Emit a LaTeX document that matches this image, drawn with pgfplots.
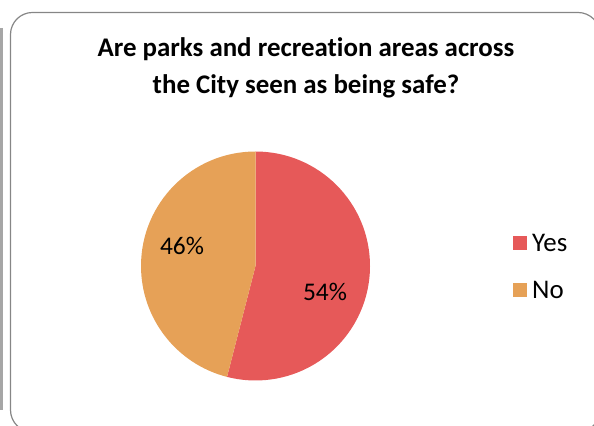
\documentclass[border=0pt]{standalone}
\usepackage{pgfplots}
\pgfplotsset{compat=1.18}
\usepackage{pgfplotstable}
\usepackage{fontspec}
\setmainfont{Carlito}[Ligatures={NoCommon}]
\definecolor{yescol}{RGB}{230,89,89}
\definecolor{nocol}{RGB}{230,161,87}
\definecolor{framecol}{RGB}{134,134,134}
\pgfplotstableread{
label value
Yes 54
No 46
}\piedata
\begin{document}
\begin{tikzpicture}[x=1bp,y=1bp]
\begin{axis}[at={(0bp,0bp)},anchor=south west,scale only axis,width=594bp,height=426bp,
  xmin=0,xmax=594,ymin=0,ymax=426,hide axis,clip=false]
\pgfplotstablegetelem{0}{value}\of\piedata
\pgfmathsetmacro\angY{90-3.6*\pgfplotsretval}
\fill[yescol] (axis cs:255.5,160) -- ++(90:114.5bp) arc[start angle=90,end angle=\angY,radius=114.5bp] -- cycle;
\fill[nocol] (axis cs:255.5,160) -- ++(90:114.5bp) arc[start angle=90,end angle=\angY+360,radius=114.5bp] -- cycle;
\node[font=\fontsize{25.5}{28}\selectfont] at (axis cs:182,180) {46\%};
\node[font=\fontsize{25.5}{28}\selectfont] at (axis cs:325,134) {54\%};
\node[font=\bfseries\fontsize{27}{37}\selectfont,align=center,anchor=center] at (axis cs:306,358) {Are parks and recreation areas across\\the City seen as being safe?};
\fill[yescol] (axis cs:513,176) rectangle (axis cs:527,190);
\fill[nocol] (axis cs:513,129) rectangle (axis cs:527,143);
\node[anchor=west,font=\fontsize{27}{30}\selectfont,inner sep=0pt] at (axis cs:532,183) {Yes};
\node[anchor=west,font=\fontsize{27}{30}\selectfont,inner sep=0pt] at (axis cs:532,136) {No};
\draw[framecol,line width=1.2bp,rounded corners=22bp] (axis cs:10.5,413.5) rectangle (axis cs:600,-6);
\draw[gray!70,line width=2.5bp] (axis cs:1.5,398) -- (axis cs:1.5,16);
\end{axis}
\pgfresetboundingbox
\path[use as bounding box] (0,0) rectangle (594bp,426bp);
\end{tikzpicture}
\end{document}
